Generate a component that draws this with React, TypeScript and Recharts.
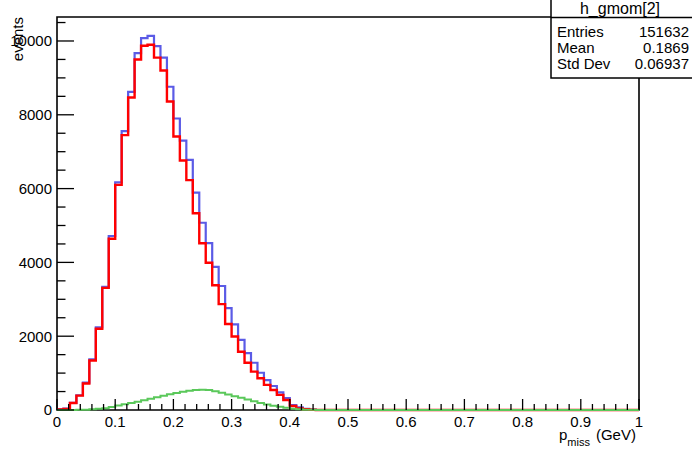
import React from 'react'
import { LineChart, Line, XAxis, YAxis, ReferenceArea } from 'recharts'

// 90 bins over 0..1 GeV (later bins are zero)
const BIN_COUNT = 90
const allCounts = [15, 35, 195, 400, 740, 1370, 2240, 3340, 4715, 6170, 7560, 8620, 9670, 10080, 10140, 9860, 9550, 8760, 7900, 7300, 6780, 5890, 5075, 4520, 3880, 3360, 2760, 2320, 1900, 1540, 1280, 1010, 810, 650, 480, 320, 135, 70, 30, 10]
const selCounts = [15, 30, 190, 390, 720, 1340, 2200, 3310, 4640, 6100, 7450, 8470, 9500, 9870, 9900, 9550, 9200, 8360, 7410, 6760, 6230, 5330, 4520, 3990, 3380, 2870, 2330, 1990, 1580, 1280, 1040, 860, 680, 540, 410, 270, 110, 45, 20, 5]
const bkgCounts = [0, 0, 2, 5, 10, 18, 32, 50, 80, 120, 155, 190, 225, 265, 305, 345, 385, 425, 460, 495, 525, 545, 550, 540, 505, 465, 420, 375, 330, 285, 240, 190, 150, 115, 90, 60, 35, 18, 8, 4, 2, 1]

const xTicks = [0, 0.02, 0.04, 0.06, 0.08, 0.1, 0.12, 0.14, 0.16, 0.18, 0.2, 0.22, 0.24, 0.26, 0.28, 0.3, 0.32, 0.34, 0.36, 0.38, 0.4, 0.42, 0.44, 0.46, 0.48, 0.5, 0.52, 0.54, 0.56, 0.58, 0.6, 0.62, 0.64, 0.66, 0.68, 0.7, 0.72, 0.74, 0.76, 0.78, 0.8, 0.82, 0.84, 0.86, 0.88, 0.9, 0.92, 0.94, 0.96, 0.98, 1]
const xLabels = ['0', '0.1', '0.2', '0.3', '0.4', '0.5', '0.6', '0.7', '0.8', '0.9', '1']
const yTicks = [0, 500, 1000, 1500, 2000, 2500, 3000, 3500, 4000, 4500, 5000, 5500, 6000, 6500, 7000, 7500, 8000, 8500, 9000, 9500, 10000, 10500]
const yMax = 10650

const statsName = 'h_gmom[2]'
const statsRows = [
  ['Entries', '151632'],
  ['Mean', '0.1869'],
  ['Std Dev', '0.06937'],
]

const font = '"Liberation Sans", Arial, Helvetica, sans-serif'

const data = Array.from({ length: BIN_COUNT + 1 }, (_, k) => ({
  x: k / BIN_COUNT,
  all: allCounts[k] ?? 0,
  sel: selCounts[k] ?? 0,
  bkg: bkgCounts[k] ?? 0,
}))

function renderXTick(props: any) {
  const { x, y, payload } = props
  const v = payload.value as number
  const major = Math.abs(v * 10 - Math.round(v * 10)) < 1e-6
  return (
    <g key={`xt-${v}`}>
      <line x1={x} x2={x} y1={y} y2={y - (major ? 11 : 6)} stroke="#000" strokeWidth={1.3} />
      {major && (
        <text x={x} y={y + 17} textAnchor="middle" fontSize={15} fontFamily={font} fill="#000">
          {xLabels[Math.round(v * 10)]}
        </text>
      )}
    </g>
  )
}

function renderYTick(props: any) {
  const { x, y, payload } = props
  const v = payload.value as number
  const major = v % 2000 === 0
  return (
    <g key={`yt-${v}`}>
      <line x1={x} x2={x + (major ? 17 : 8.5)} y1={y} y2={y} stroke="#000" strokeWidth={1.3} />
      {major && (
        <text x={x - 5} y={y + 5.4} textAnchor="end" fontSize={15} fontFamily={font} fill="#000">
          {v}
        </text>
      )}
    </g>
  )
}

export default function App() {
  return (
    <div style={{ position: 'fixed', left: 0, top: 0, width: 692, height: 450, background: '#fff', overflow: 'hidden' }}>
      <LineChart width={692} height={450} data={data} margin={{ top: 17, right: 53, bottom: 0, left: 0 }}>
        <XAxis dataKey="x" type="number" domain={[0, 1]} ticks={xTicks} interval={0} height={40}
          axisLine={false} tickLine={false} tickSize={0} tickMargin={0} tick={renderXTick} />
        <YAxis type="number" domain={[0, yMax]} ticks={yTicks} interval={0} width={57}
          axisLine={false} tickLine={false} tickSize={0} tickMargin={0} tick={renderYTick} />
        <ReferenceArea x1={0} x2={1} y1={0} y2={yMax} stroke="#000" strokeWidth={1.6} fill="none" fillOpacity={0} />
        <Line type="stepAfter" dataKey="all" stroke="#5b5be6" strokeWidth={2.2} dot={false} isAnimationActive={false} />
        <Line type="stepAfter" dataKey="sel" stroke="#ff0000" strokeWidth={2.4} dot={false} isAnimationActive={false} />
        <Line type="stepAfter" dataKey="bkg" stroke="#5ac85a" strokeWidth={2} dot={false} isAnimationActive={false} />
      </LineChart>
      <svg width={692} height={450} style={{ position: 'absolute', left: 0, top: 0, pointerEvents: 'none' }}>
        <text transform="translate(23,17) rotate(-90)" textAnchor="end" fontSize={15} fontFamily={font} fill="#000">events</text>
        <text x={559} y={440} fontSize={15} fontFamily={font} fill="#000">
          p<tspan dy={6} fontSize={11}>miss</tspan><tspan dy={-6} dx={6}>(GeV)</tspan>
        </text>
        <rect x={551} y={-1} width={145} height={79} fill="#fff" stroke="#000" strokeWidth={1.5} />
        <line x1={551} x2={692} y1={17.5} y2={17.5} stroke="#000" strokeWidth={1.5} />
        <text x={620} y={13.5} textAnchor="middle" fontSize={16} fontFamily={font} fill="#000">{statsName}</text>
        {statsRows.map((r, i) => (
          <g key={r[0]}>
            <text x={557} y={37.3 + i * 15.7} fontSize={15} fontFamily={font} fill="#000">{r[0]}</text>
            <text x={689} y={37.3 + i * 15.7} textAnchor="end" fontSize={15} fontFamily={font} fill="#000">{r[1]}</text>
          </g>
        ))}
      </svg>
    </div>
  )
}
